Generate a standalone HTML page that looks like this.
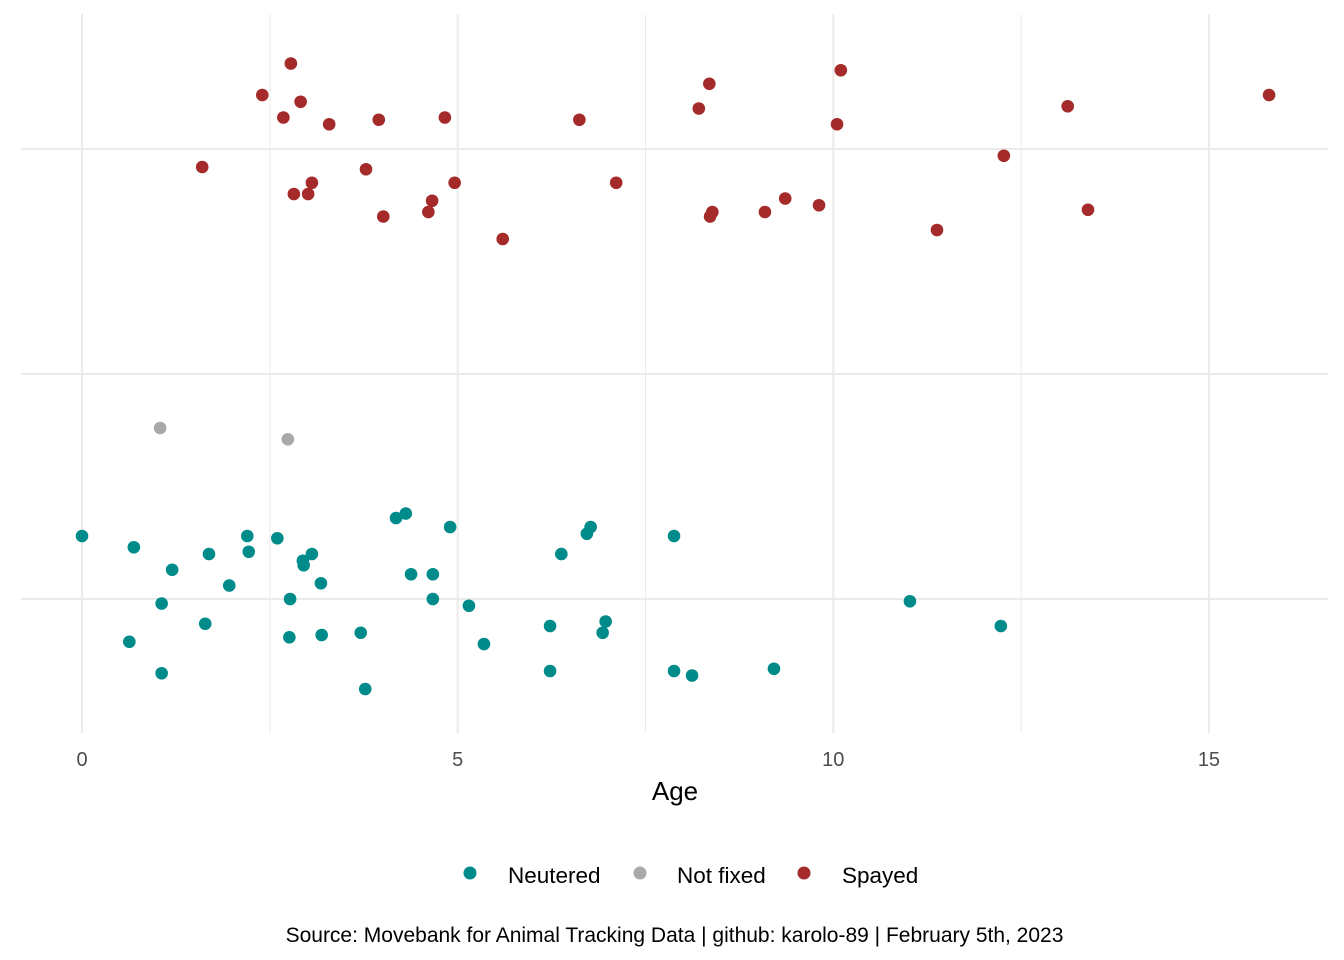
<!DOCTYPE html>
<html><head><meta charset="utf-8"><style>
html,body{margin:0;padding:0;background:#fff;}
svg{display:block;font-family:"Liberation Sans",sans-serif;}
</style></head><body>
<svg id="chart" width="1344" height="960">
<g id="grid"></g>
<g id="points"></g>
<g id="xaxis"></g>
<text x="675" y="800" text-anchor="middle" font-size="26" fill="#000">Age</text>
<g>
<g><circle cx="470" cy="873" r="6.5" fill="#008b8b"/><text x="508" y="883" font-size="22.5">Neutered</text></g>
<g><circle cx="640" cy="873" r="6.5" fill="#a9a9a9"/><text x="677" y="883" font-size="22.5">Not fixed</text></g>
<g><circle cx="804" cy="873" r="6.5" fill="#a52a2a"/><text x="842" y="883" font-size="22.5">Spayed</text></g>
</g>
<text x="674.5" y="942" text-anchor="middle" font-size="21" fill="#000">Source: Movebank for Animal Tracking Data | github: karolo-89 | February 5th, 2023</text>
</svg>
<script>
const xTicks = [0, 5, 10, 15];
const xMinor = [2.5, 7.5, 12.5];
const yCats = [1, 2, 3];
const spayedAge = [2.78,2.40,2.68,2.91,3.29,3.95,4.83,1.60,3.78,2.82,3.01,3.06,4.01,4.61,4.66,4.96,5.60,6.62,7.11,8.21,8.35,8.36,8.39,9.09,9.36,9.81,10.05,10.10,11.38,12.27,13.12,13.39,15.80];
const spayedY = [3.38,3.24,3.14,3.21,3.11,3.13,3.14,2.92,2.91,2.80,2.80,2.85,2.70,2.72,2.77,2.85,2.60,3.13,2.85,3.18,3.29,2.70,2.72,2.72,2.78,2.75,3.11,3.35,2.64,2.97,3.19,2.73,3.24];
const notFixedAge = [1.04, 2.74];
const notFixedY = [1.76, 1.71];
const neuteredAge = [0.00,0.69,0.63,1.06,1.06,1.20,1.64,1.69,1.96,2.20,2.22,2.60,2.76,2.77,2.94,2.95,3.06,3.18,3.19,3.71,3.77,4.18,4.31,4.38,4.67,4.67,4.90,5.15,5.35,6.23,6.23,6.38,6.72,6.77,6.93,6.97,7.88,7.88,8.12,9.21,11.02,12.23];
const neuteredY = [1.28,1.23,0.81,0.98,0.67,1.13,0.89,1.20,1.06,1.28,1.21,1.27,0.83,1.00,1.17,1.15,1.20,1.07,0.84,0.85,0.60,1.36,1.38,1.11,1.11,1.00,1.32,0.97,0.80,0.88,0.68,1.20,1.29,1.32,0.85,0.90,1.28,0.68,0.66,0.69,0.99,0.88];

const NS = 'http://www.w3.org/2000/svg';
const L = 21, R = 1328, T = 14, B = 733;
const xs = v => 82 + v * 75.13;
const ys = v => 599 - (v - 1) * 225;
function mk(tag, attrs, parent){ const e = document.createElementNS(NS, tag); for (const k in attrs) e.setAttribute(k, attrs[k]); parent.appendChild(e); return e; }
const grid = document.getElementById('grid');
xMinor.forEach(v => {
  const l = mk('line', {x1: xs(v), x2: xs(v), y1: T, y2: B, stroke: '#ebebeb', 'stroke-width': 1}, grid);
  
  
});
xTicks.forEach(v => {
  const l = mk('line', {x1: xs(v), x2: xs(v), y1: T, y2: B, stroke: '#ebebeb', 'stroke-width': 2}, grid);
  
  
});
yCats.forEach(v => {
  const l = mk('line', {x1: L, x2: R, y1: ys(v), y2: ys(v), stroke: '#ebebeb', 'stroke-width': 2}, grid);
  
  
});
const xa = document.getElementById('xaxis');
xTicks.forEach(v => {
  const t = mk('text', {x: xs(v), y: 766, 'text-anchor': 'middle', 'font-size': 20, fill: '#4d4d4d'}, xa);
  t.textContent = v;
  
  
});
const pts = document.getElementById('points');
function series(ages, yv, color, name){
  ages.forEach((a, i) => {
    const c = mk('circle', {cx: xs(a), cy: ys(yv[i]), r: 6.3, fill: color}, pts);
    
    
  });
}
series(neuteredAge, neuteredY, '#008b8b', 'point-neutered');
series(notFixedAge, notFixedY, '#a9a9a9', 'point-not-fixed');
series(spayedAge, spayedY, '#a52a2a', 'point-spayed');
</script>
</body></html>
